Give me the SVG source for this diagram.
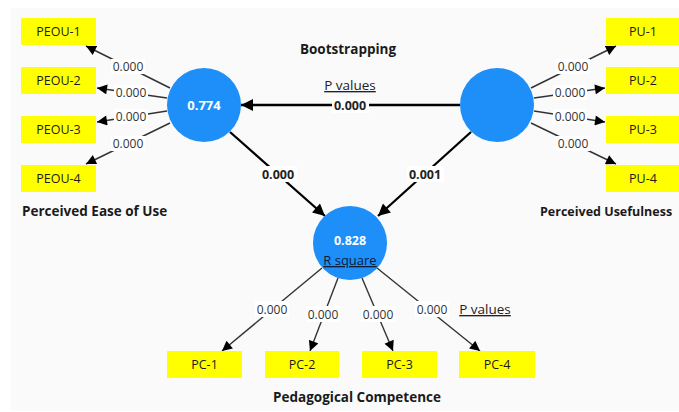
<svg xmlns="http://www.w3.org/2000/svg" width="679" height="412" viewBox="0 0 679 412">
<style>
text{font-family:"Open Sans","Noto Sans","Liberation Sans",sans-serif;fill:#1a1a1a}
.box{fill:#ffff00}
.bt{font-size:12.5px;text-anchor:middle}
.lv{font-size:12px;text-anchor:middle;fill:#333}
.lbg{fill:#ffffff}
.thin{stroke:#333;stroke-width:1.4;fill:none}
.thick{stroke:#000;stroke-width:2.3;fill:none}
.circ{fill:#1e8ff8}
.title{font-size:13.5px;font-weight:bold}
.pv{font-size:13.5px;text-anchor:middle;fill:#222;text-decoration:underline}
.bv{font-size:12.5px;font-weight:bold;text-anchor:middle;fill:#222}
</style>
<defs>
<marker id="ah" viewBox="0 0 10 10" refX="10" refY="5" markerWidth="11" markerHeight="10" markerUnits="userSpaceOnUse" orient="auto"><path d="M0,0 L10,5 L0,10 z" fill="#000"/></marker>
<marker id="ahb" viewBox="0 0 10 10" refX="10" refY="5" markerWidth="14" markerHeight="12" markerUnits="userSpaceOnUse" orient="auto"><path d="M0,0 L10,5 L0,10 z" fill="#000"/></marker>
</defs>
<rect x="0" y="0" width="679" height="412" fill="#ffffff"/>
<rect x="11" y="8" width="668" height="403" fill="#fafafa"/>

<g id="connectors">
<line class="thin" x1="170" y1="88" x2="86" y2="46" marker-end="url(#ah)"/>
<line class="thin" x1="167" y1="98" x2="97" y2="88" marker-end="url(#ah)"/>
<line class="thin" x1="167" y1="111" x2="97" y2="122" marker-end="url(#ah)"/>
<line class="thin" x1="170" y1="123" x2="86" y2="164" marker-end="url(#ah)"/>
<line class="thin" x1="531" y1="88" x2="616" y2="46" marker-end="url(#ah)"/>
<line class="thin" x1="534" y1="98" x2="605" y2="88" marker-end="url(#ah)"/>
<line class="thin" x1="534" y1="111" x2="605" y2="122" marker-end="url(#ah)"/>
<line class="thin" x1="531" y1="123" x2="616" y2="164" marker-end="url(#ah)"/>
<line class="thin" x1="322" y1="268" x2="222" y2="351" marker-end="url(#ah)"/>
<line class="thin" x1="338" y1="278" x2="310" y2="351" marker-end="url(#ah)"/>
<line class="thin" x1="362" y1="278" x2="393" y2="351" marker-end="url(#ah)"/>
<line class="thin" x1="377" y1="268" x2="480" y2="351" marker-end="url(#ah)"/>
<line class="thick" x1="460" y1="105" x2="241" y2="105" marker-end="url(#ahb)"/>
<line class="thick" x1="230" y1="132" x2="325" y2="216" marker-end="url(#ahb)"/>
<line class="thick" x1="471" y1="132" x2="378" y2="216" marker-end="url(#ahb)"/>

<rect class="lbg" x="111" y="59" width="34" height="15"/><text class="lv" x="128" y="71">0.000</text>
<rect class="lbg" x="114" y="85" width="34" height="15"/><text class="lv" x="131" y="97">0.000</text>
<rect class="lbg" x="114" y="109" width="34" height="15"/><text class="lv" x="131" y="121">0.000</text>
<rect class="lbg" x="111" y="136" width="34" height="15"/><text class="lv" x="128" y="148">0.000</text>
<rect class="lbg" x="556" y="59" width="34" height="15"/><text class="lv" x="573" y="71">0.000</text>
<rect class="lbg" x="553" y="85" width="34" height="15"/><text class="lv" x="570" y="97">0.000</text>
<rect class="lbg" x="553" y="109" width="34" height="15"/><text class="lv" x="570" y="121">0.000</text>
<rect class="lbg" x="556" y="136" width="34" height="15"/><text class="lv" x="573" y="148">0.000</text>
<rect class="lbg" x="255" y="301" width="34" height="16"/><text class="lv" x="272" y="314">0.000</text>
<rect class="lbg" x="306" y="306" width="34" height="16"/><text class="lv" x="323" y="319">0.000</text>
<rect class="lbg" x="361" y="306" width="34" height="16"/><text class="lv" x="378" y="319">0.000</text>
<rect class="lbg" x="415" y="301" width="34" height="16"/><text class="lv" x="432" y="314">0.000</text>
<rect class="lbg" x="332" y="97" width="37" height="16"/><text class="bv" x="350" y="110">0.000</text>
<rect class="lbg" x="260" y="166" width="37" height="16"/><text class="bv" x="278" y="179">0.000</text>
<rect class="lbg" x="407" y="166" width="37" height="16"/><text class="bv" x="425" y="179">0.001</text>
<text class="pv" x="350" y="90">P values</text>
<text class="pv" x="485" y="314">P values</text>
</g>

<g id="peou">
<circle class="circ" cx="204" cy="105" r="37"/>
<text x="204" y="110" font-size="13" font-weight="bold" text-anchor="middle" style="fill:#fff">0.774</text>
<text class="title" x="22" y="216">Perceived Ease of Use</text>
</g>
<g id="pu">
<circle class="circ" cx="497" cy="105" r="37"/>
<text x="540" y="216" font-size="12.5" font-weight="bold">Perceived Usefulness</text>
</g>
<g id="pc">
<circle class="circ" cx="350" cy="243" r="37"/>
<text x="350" y="245" font-size="12.5" font-weight="bold" text-anchor="middle" style="fill:#fff">0.828</text>
<text x="350" y="265" font-size="13" text-anchor="middle" style="fill:#0d1b3a;text-decoration:underline">R square</text>
<text class="title" x="273" y="402">Pedagogical Competence</text>
</g>
<g id="peou1"><rect class="box" x="21" y="18" width="75" height="27"/><text class="bt" x="58.5" y="36">PEOU-1</text></g>
<g id="peou2"><rect class="box" x="21" y="67" width="75" height="27"/><text class="bt" x="58.5" y="85">PEOU-2</text></g>
<g id="peou3"><rect class="box" x="21" y="116" width="75" height="27"/><text class="bt" x="58.5" y="134">PEOU-3</text></g>
<g id="peou4"><rect class="box" x="21" y="165" width="75" height="27"/><text class="bt" x="58.5" y="183">PEOU-4</text></g>
<g id="pu1"><rect class="box" x="606" y="18" width="75" height="27"/><text class="bt" x="643" y="36">PU-1</text></g>
<g id="pu2"><rect class="box" x="606" y="67" width="75" height="27"/><text class="bt" x="643" y="85">PU-2</text></g>
<g id="pu3"><rect class="box" x="606" y="116" width="75" height="27"/><text class="bt" x="643" y="134">PU-3</text></g>
<g id="pu4"><rect class="box" x="606" y="165" width="75" height="27"/><text class="bt" x="643" y="183">PU-4</text></g>
<g id="pc1"><rect class="box" x="167" y="351" width="75" height="27"/><text class="bt" x="204.5" y="369">PC-1</text></g>
<g id="pc2"><rect class="box" x="265" y="351" width="74" height="27"/><text class="bt" x="302" y="369">PC-2</text></g>
<g id="pc3"><rect class="box" x="362" y="351" width="75" height="27"/><text class="bt" x="399.5" y="369">PC-3</text></g>
<g id="pc4"><rect class="box" x="459" y="351" width="76" height="27"/><text class="bt" x="497" y="369">PC-4</text></g>
<g id="header"><text class="title" x="348" y="54" text-anchor="middle">Bootstrapping</text></g>
</svg>
